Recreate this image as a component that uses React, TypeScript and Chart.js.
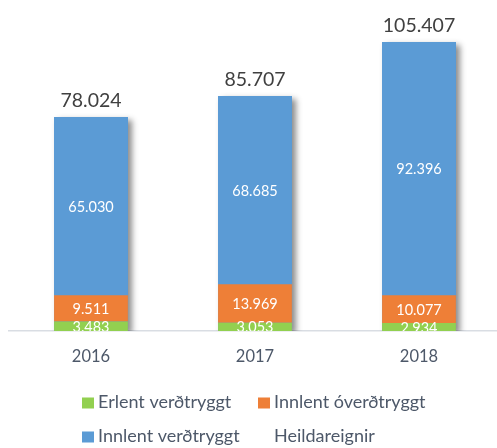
import React, { useEffect, useRef } from "react";
import { Chart, registerables } from "chart.js";

Chart.register(...registerables);

const categories = ["2016", "2017", "2018"];
const erlentVerdtryggt = [3483, 3053, 2934];
const innlentOverdtryggt = [9511, 13969, 10077];
const innlentVerdtryggt = [65030, 68685, 92396];
const heildareignir = [78024, 85707, 105407];
const seriesLabels = ["Erlent verðtryggt", "Innlent óverðtryggt", "Innlent verðtryggt", "Heildareignir"];
const seriesColors = ["#92D050", "#EE7F37", "#5B9BD5"];
const yMax = 120000;

const FONT = "Lato, 'Open Sans', sans-serif";
const fmt = (v: number) => String(v).replace(/\B(?=(\d{3})+(?!\d))/g, ".");

const shadowPlugin = {
  id: "stackShadow",
  beforeDatasetsDraw(chart: any) {
    const { ctx, chartArea } = chart;
    const base = chart.getDatasetMeta(0);
    const tot = chart.getDatasetMeta(3);
    ctx.save();
    ctx.beginPath();
    ctx.rect(chartArea.left, chartArea.top, chartArea.right - chartArea.left, chartArea.bottom - chartArea.top);
    ctx.clip();
    ctx.shadowColor = "rgba(0,0,0,0.45)";
    ctx.shadowBlur = 6;
    ctx.shadowOffsetX = 4;
    ctx.shadowOffsetY = 3;
    ctx.fillStyle = seriesColors[2];
    base.data.forEach((el: any, i: number) => {
      const w = el.width;
      const top = tot.data[i].y;
      ctx.fillRect(el.x - w / 2, top, w, el.base - top);
    });
    ctx.restore();
  },
};

const labelsPlugin = {
  id: "valueLabels",
  afterDatasetsDraw(chart: any) {
    const { ctx, chartArea } = chart;
    ctx.save();
    ctx.beginPath();
    ctx.rect(chartArea.left, chartArea.top, chartArea.right - chartArea.left, chartArea.bottom - chartArea.top);
    ctx.clip();
    ctx.textAlign = "center";
    ctx.textBaseline = "middle";
    ctx.font = `14.5px ${FONT}`;
    ctx.fillStyle = "#ffffff";
    for (let d = 0; d < 3; d++) {
      const meta = chart.getDatasetMeta(d);
      const values = chart.data.datasets[d].data as number[];
      meta.data.forEach((el: any, i: number) => {
        ctx.fillText(fmt(values[i]), el.x, (el.y + el.base) / 2 + 1);
      });
    }
    ctx.restore();

    ctx.save();
    ctx.textAlign = "center";
    ctx.textBaseline = "alphabetic";
    ctx.font = `19.5px ${FONT}`;
    ctx.fillStyle = "#404040";
    const tot = chart.getDatasetMeta(3);
    tot.data.forEach((el: any, i: number) => {
      ctx.fillText(fmt(heildareignir[i]), el.x, el.y - 10);
    });
    ctx.restore();
  },
};

const legendPlugin = {
  id: "gridLegend",
  afterDraw(chart: any) {
    const { ctx } = chart;
    const cols = [82, 258];
    const rows = [402.5, 436.5];
    ctx.save();
    chart.data.datasets.forEach((ds: any, i: number) => {
      const x = cols[i % 2];
      const y = rows[Math.floor(i / 2)];
      if (ds.type !== "line") {
        ctx.fillStyle = ds.backgroundColor;
        ctx.fillRect(x, y - 5, 12, 11);
      }
      ctx.fillStyle = "#4d5869";
      ctx.font = `18px ${FONT}`;
      ctx.textAlign = "left";
      ctx.textBaseline = "middle";
      ctx.fillText(ds.label, x + 16, y);
    });
    ctx.restore();
  },
};

export default function App() {
  const ref = useRef<HTMLCanvasElement | null>(null);
  useEffect(() => {
    if (!ref.current) return;
    const chart = new Chart(ref.current, {
      type: "bar",
      data: {
        labels: categories,
        datasets: [
          { label: seriesLabels[0], data: erlentVerdtryggt, backgroundColor: seriesColors[0], borderWidth: 0 },
          { label: seriesLabels[1], data: innlentOverdtryggt, backgroundColor: seriesColors[1], borderWidth: 0 },
          { label: seriesLabels[2], data: innlentVerdtryggt, backgroundColor: seriesColors[2], borderWidth: 0 },
          {
            type: "line",
            label: seriesLabels[3],
            data: heildareignir,
            showLine: false,
            pointRadius: 0,
            pointHoverRadius: 0,
            borderColor: "transparent",
            backgroundColor: "transparent",
          } as any,
        ],
      },
      options: {
        animation: false,
        responsive: false,
        maintainAspectRatio: false,
        layout: { padding: { top: 2, left: 9, right: 4, bottom: 0 } },
        datasets: { bar: { barPercentage: 0.45, categoryPercentage: 1 } } as any,
        plugins: { legend: { display: false }, tooltip: { enabled: false } },
        scales: {
          x: {
            stacked: true,
            grid: { display: false, drawTicks: false },
            border: { display: true, color: "#d9dde3", width: 1.5 },
            ticks: { color: "#4d5869", font: { family: FONT, size: 16.5 }, padding: 16 },
            afterFit: (s: any) => {
              s.height = 117;
            },
          },
          y: { stacked: true, display: false, min: 0, max: yMax },
        },
      } as any,
      plugins: [shadowPlugin, labelsPlugin, legendPlugin],
    });
    return () => chart.destroy();
  }, []);
  return (
    <div style={{ position: "absolute", left: 0, top: 0, width: 497, height: 448, overflow: "hidden", background: "#fff" }}>
      <canvas ref={ref} width={505} height={448} style={{ display: "block", width: 505, height: 448 }} />
    </div>
  );
}
